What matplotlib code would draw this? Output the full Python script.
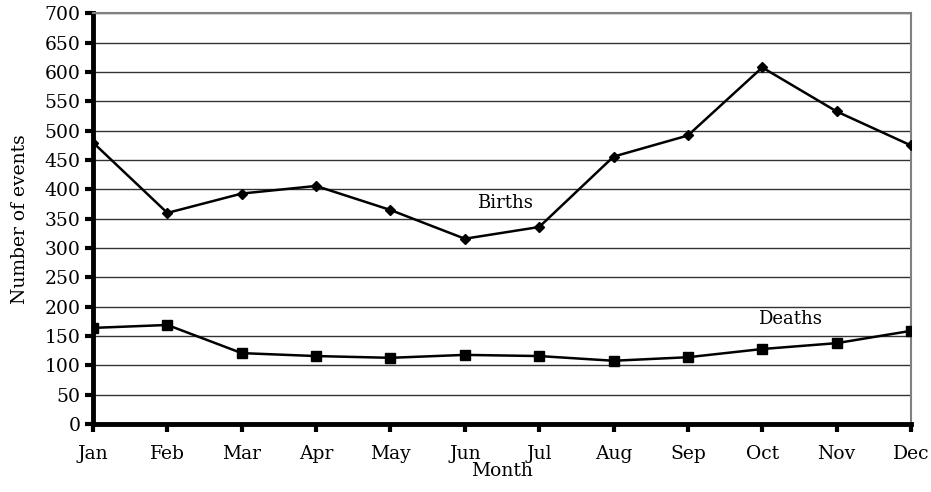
import numpy as np
import matplotlib
matplotlib.use('Agg')
import matplotlib.pyplot as plt

months = ['Jan', 'Feb', 'Mar', 'Apr', 'May', 'Jun', 'Jul', 'Aug', 'Sep', 'Oct', 'Nov', 'Dec']
births = [480, 360, 393, 406, 365, 316, 336, 456, 492, 608, 533, 475]
deaths = [164, 169, 121, 116, 113, 118, 116, 108, 114, 128, 138, 159]

plt.rcParams['font.family'] = ['DejaVu Serif']

fig = plt.figure(figsize=(9.31, 4.92), dpi=100)
ax = fig.add_axes([0.0999, 0.138, 0.8786, 0.8346])

x = np.arange(len(months))
ax.plot(x, births, color='black', lw=1.8, marker='D', ms=5, zorder=3)
ax.plot(x, deaths, color='black', lw=1.8, marker='s', ms=7, zorder=3)

ax.text(5.54, 377, 'Births', fontsize=13, ha='center', va='center')
ax.text(9.37, 179, 'Deaths', fontsize=13, ha='center', va='center')

ax.set_xlim(0, 11)
ax.set_ylim(0, 700)
ax.set_yticks(np.arange(0, 701, 50))
ax.set_xticks(x)
ax.set_xticklabels(months)
ax.yaxis.grid(True, color='#333333', lw=1)
ax.set_axisbelow(True)

for s in ['top', 'right']:
    ax.spines[s].set_color('#808080')
    ax.spines[s].set_linewidth(1.5)
for s in ['left', 'bottom']:
    ax.spines[s].set_color('black')
    ax.spines[s].set_linewidth(3.5)

ax.tick_params(axis='both', length=6, width=3, labelsize=13.5, direction='out')
ax.tick_params(axis='x', pad=9)
ax.tick_params(axis='y', pad=3)

ax.set_xlabel('Month', fontsize=13.5, labelpad=-1)
ax.set_ylabel('Number of events', fontsize=13.5, labelpad=11)

fig.savefig('out.png', dpi=100)
